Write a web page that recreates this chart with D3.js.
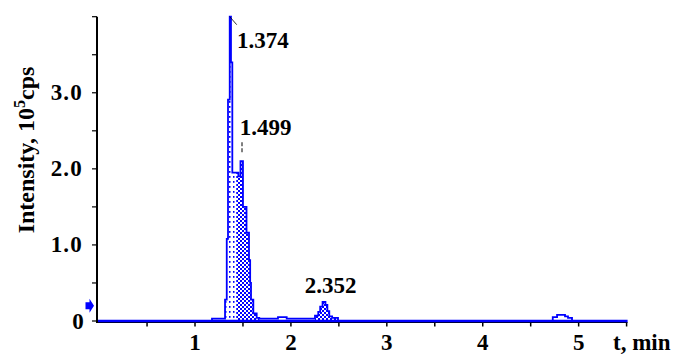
<!DOCTYPE html>
<html>
<head>
<meta charset="utf-8">
<script src="https://cdn.jsdelivr.net/npm/d3@7"></script>
<style>
  html, body { margin: 0; padding: 0; background: #fff; }
  svg { display: block; }
</style>
</head>
<body>
<svg id="chart" width="679" height="355"></svg>
<script>
// ---- data (time in min, intensity in 10^5 cps), step profile ----
const times = [0.000, 1.177, 1.313, 1.331, 1.344, 1.362, 1.375, 1.389, 1.452, 1.474, 1.500,
               1.537, 1.563, 1.575, 1.584, 1.608, 1.643, 1.670, 1.865, 1.956, 2.251, 2.285, 2.305,
               2.330, 2.360, 2.380, 2.400, 2.430, 2.491, 4.730, 4.775, 4.858, 4.889, 4.931, 5.500];
const intensity = [0.00, 0.03, 0.28, 1.08, 2.91, 4.00, 3.40, 1.95, 1.90, 2.10, 1.50,
                   1.16, 0.80, 0.50, 0.28, 0.10, 0.04, 0.03, 0.05, 0.03, 0.07, 0.12, 0.19,
                   0.25, 0.21, 0.13, 0.06, 0.04, 0.00, 0.05, 0.08, 0.06, 0.04, 0.00, 0.00];
const peakLabels = ["1.374", "1.499", "2.352"];
const peakTimes = [1.374, 1.499, 2.352];
const peakHeights = [4.00, 2.10, 0.25];
const dottedRegion = [1.313, 1.43];
const checkerRegions = [[1.43, 1.67], [2.251, 2.491]];
const xTickValues = [0.5, 1, 1.5, 2, 2.5, 3, 3.5, 4, 4.5, 5, 5.5];
const xTickLabels = [1, 2, 3, 4, 5];
const yTickValues = [0, 0.5, 1, 1.5, 2, 2.5, 3, 3.5, 4];
const yTickLabels = [0, 1, 2, 3];
const thresholdLevel = 0.2;

const FONT = "'Liberation Serif', 'Times New Roman', serif";
const data = times.map((t, i) => ({t, v: intensity[i]}));
const blue = "#0000ff";

const svg = d3.select("#chart");
const x = d3.scaleLinear().domain([0, 5.5]).range([99.1, 626.6]);
const y = d3.scaleLinear().domain([0, 4]).range([321, 16.7]);
const axisLeftX = 97;

function txt(sel) {
  return sel.attr("font-family", FONT).attr("font-weight", "bold").attr("fill", "#000");
}

// patterns
const defs = svg.append("defs");
const dot = defs.append("pattern").attr("id", "dots").attr("patternUnits", "userSpaceOnUse")
  .attr("width", 4).attr("height", 5);
dot.append("rect").attr("width", 4).attr("height", 5).attr("fill", "#fff");
dot.append("rect").attr("x", 1).attr("y", 1).attr("width", 1.5).attr("height", 1.8).attr("fill", blue);

const chk = defs.append("pattern").attr("id", "checker").attr("patternUnits", "userSpaceOnUse")
  .attr("width", 4).attr("height", 4);
chk.append("rect").attr("width", 4).attr("height", 4).attr("fill", "#fff");
chk.append("rect").attr("x", 0).attr("y", 0).attr("width", 2).attr("height", 2).attr("fill", blue);
chk.append("rect").attr("x", 2).attr("y", 2).attr("width", 2).attr("height", 2).attr("fill", blue);

const area = d3.area().x(d => x(d.t)).y0(y(0)).y1(d => y(d.v)).curve(d3.curveStepAfter);
const line = d3.line().x(d => x(d.t)).y(d => y(d.v)).curve(d3.curveStepAfter);

function fillRegion(r, id, pat) {
  defs.append("clipPath").attr("id", id).append("rect")
    .attr("x", x(r[0])).attr("y", 0).attr("width", x(r[1]) - x(r[0])).attr("height", 355);
  svg.append("path").datum(data).attr("d", area).attr("fill", `url(#${pat})`)
    .attr("clip-path", `url(#${id})`);
}
fillRegion(dottedRegion, "c0", "dots");
checkerRegions.forEach((r, i) => fillRegion(r, "c" + (i + 1), "checker"));

// x axis (black, beneath trace)
const xAxisG = svg.append("g").attr("transform", `translate(0,${y(0) + 1.5})`);
xAxisG.append("line").attr("x1", axisLeftX).attr("x2", x(5.5) + 1).attr("y1", 0).attr("y2", 0)
  .attr("stroke", "#000").attr("stroke-width", 1);
xAxisG.selectAll("line.tk").data(xTickValues).join("line").attr("class", "tk")
  .attr("x1", d => x(d)).attr("x2", d => x(d)).attr("y1", 0).attr("y2", 4)
  .attr("stroke", "#000").attr("stroke-width", 1.5);
txt(xAxisG.selectAll("text").data(xTickLabels).join("text"))
  .attr("x", d => x(d)).attr("y", 27.5).attr("text-anchor", "middle")
  .attr("font-size", 23).text(d => d);

// trace
svg.append("path").datum(data).attr("d", line).attr("fill", "none")
  .attr("stroke", blue).attr("stroke-width", 1.8);
svg.append("line").attr("x1", axisLeftX + 1).attr("x2", x(5.5) + 1).attr("y1", y(0)).attr("y2", y(0))
  .attr("stroke", blue).attr("stroke-width", 2.4);

// y axis
const yAxisG = svg.append("g");
yAxisG.append("line").attr("x1", axisLeftX).attr("x2", axisLeftX).attr("y1", y(4)).attr("y2", y(0) + 2)
  .attr("stroke", "#000").attr("stroke-width", 2);
yAxisG.selectAll("line.tk").data(yTickValues).join("line").attr("class", "tk")
  .attr("x1", axisLeftX - 5).attr("x2", axisLeftX).attr("y1", d => y(d)).attr("y2", d => y(d))
  .attr("stroke", "#000").attr("stroke-width", 1.2);
txt(yAxisG.selectAll("text").data(yTickLabels).join("text"))
  .attr("x", d => d === 0 ? 85 : 83).attr("y", d => y(d) + 7.5).attr("text-anchor", "end")
  .attr("font-size", 23).attr("letter-spacing", 1.2)
  .text(d => d === 0 ? "0" : d.toFixed(1));

// threshold arrow
const ay = y(thresholdLevel);
svg.append("path")
  .attr("d", `M85.5,${ay - 3.5} L89.5,${ay - 3.5} L89.5,${ay - 7} L94,${ay} L89.5,${ay + 7} L89.5,${ay + 3.5} L85.5,${ay + 3.5} Z`)
  .attr("fill", blue);

// y axis title
const yt = txt(svg.append("text")).attr("transform", "translate(34,150) rotate(-90)")
  .attr("text-anchor", "middle").attr("font-size", 24);
yt.append("tspan").text("Intensity, 10");
yt.append("tspan").attr("dy", -9).attr("font-size", 16).text("5");
yt.append("tspan").attr("dy", 9).text("cps");

// x axis title
txt(svg.append("text")).attr("x", 613).attr("y", 350).attr("font-size", 23).text("t, min");

// peak labels
const lblOffsets = [[6, -31], [-3, 26], [-20, 9]];
peakLabels.forEach((s, i) => {
  txt(svg.append("text")).attr("x", x(peakTimes[i]) + lblOffsets[i][0])
    .attr("y", y(peakHeights[i]) - lblOffsets[i][1])
    .attr("font-size", 23).text(s);
});
// leader lines
svg.append("line").attr("x1", x(1.362)).attr("y1", y(4.0)).attr("x2", x(1.362) + 7).attr("y2", y(4.0) + 8)
  .attr("stroke", "#000").attr("stroke-width", 0.8);
svg.append("line").attr("x1", x(1.49)).attr("x2", x(1.49)).attr("y1", y(2.10) - 19).attr("y2", y(2.10) - 8)
  .attr("stroke", "#000").attr("stroke-width", 1).attr("stroke-dasharray", "4,2");
</script>
</body>
</html>
